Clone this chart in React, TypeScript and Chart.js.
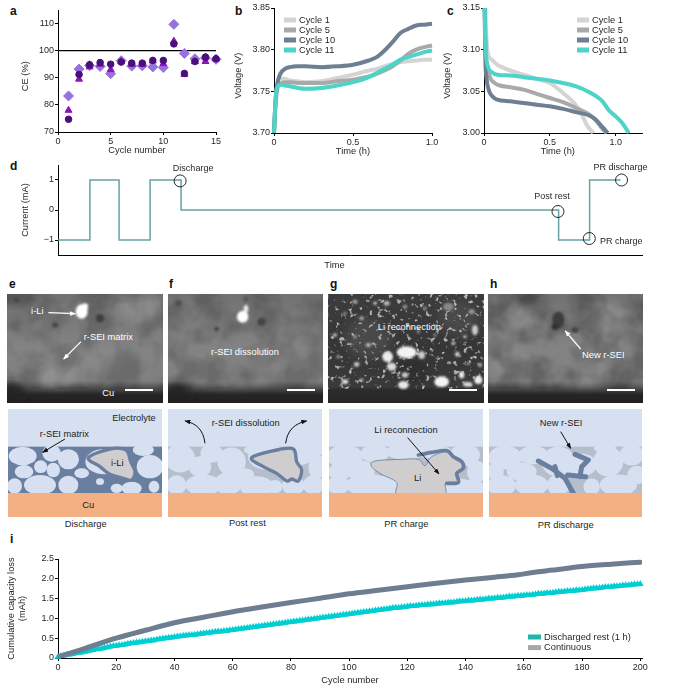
import React, { useEffect, useRef } from 'react';
import { Chart, registerables } from 'chart.js';

Chart.register(...registerables);

const FONT = '"Liberation Sans", Arial, sans-serif';
const INK = '#231f20';

// a: coulombic efficiency
const ceCycles = [1, 2, 3, 4, 5, 6, 7, 8, 9, 10, 11, 12, 13, 14, 15];
const ceDiamond = [83.3, 93.2, 94.5, 94.2, 91.5, 96.3, 94.3, 94.4, 94, 93.8, 109.7, 99, 97, 97.3, 96.8];
const ceTriangle = [78, 89.5, 94, 95, 93, 96, 95, 95, 96.2, 95.2, 103.5, 91.2, 96, 96, 97];
const ceCircle = [74.7, 91.2, 94.8, 95.6, 95, 95.8, 95.4, 95.4, 96.4, 96.4, 102.5, 91.6, 96, 97.6, 97];
const ceRefX = [0, 15];
const ceRefY = [100, 100];

// b: charge curves
const cycleNames = ['Cycle 1', 'Cycle 5', 'Cycle 10', 'Cycle 11'];
const cycleColors = ['#d4d4d4', '#a9a9a9', '#6f7f92', '#4dd4c8'];
const chargeTime = [0, 0.01, 0.02, 0.04, 0.07, 0.1, 0.15, 0.2, 0.3, 0.4, 0.5, 0.6, 0.65, 0.7, 0.75, 0.8, 0.85, 0.9, 0.95, 1];
const chargeC1 = [3.7, 3.74, 3.757, 3.765, 3.765, 3.763, 3.762, 3.761, 3.762, 3.766, 3.77, 3.775, 3.777, 3.78, 3.783, 3.785, 3.786, 3.787, 3.788, 3.788];
const chargeC5 = [3.7, 3.735, 3.752, 3.759, 3.761, 3.761, 3.76, 3.76, 3.76, 3.762, 3.764, 3.768, 3.771, 3.775, 3.78, 3.787, 3.795, 3.8, 3.803, 3.805];
const chargeC10 = [3.7, 3.74, 3.758, 3.771, 3.777, 3.779, 3.78, 3.78, 3.779, 3.78, 3.782, 3.787, 3.791, 3.799, 3.809, 3.82, 3.825, 3.829, 3.83, 3.831];
const chargeC11 = [3.7, 3.74, 3.755, 3.758, 3.757, 3.756, 3.754, 3.753, 3.754, 3.757, 3.761, 3.767, 3.772, 3.777, 3.782, 3.788, 3.791, 3.794, 3.797, 3.799];

// c: discharge curves
const dischargeT1 = [0.01, 0.02, 0.03, 0.06, 0.1, 0.15, 0.2, 0.3, 0.4, 0.5, 0.6, 0.7, 0.75, 0.78, 0.83];
const dischargeV1 = [3.15, 3.11, 3.095, 3.088, 3.082, 3.078, 3.075, 3.07, 3.065, 3.06, 3.048, 3.033, 3.02, 3.01, 3.0];
const dischargeT5 = [0.005, 0.015, 0.03, 0.05, 0.08, 0.12, 0.2, 0.3, 0.4, 0.5, 0.6, 0.7, 0.8, 0.85, 0.9, 0.93];
const dischargeV5 = [3.15, 3.09, 3.075, 3.065, 3.06, 3.057, 3.055, 3.052, 3.047, 3.042, 3.037, 3.03, 3.022, 3.015, 3.005, 3.0];
const dischargeT10 = [0.005, 0.01, 0.02, 0.04, 0.07, 0.1, 0.2, 0.3, 0.4, 0.5, 0.6, 0.7, 0.8, 0.85, 0.9, 0.94];
const dischargeV10 = [3.15, 3.09, 3.065, 3.05, 3.043, 3.04, 3.038, 3.036, 3.034, 3.032, 3.029, 3.025, 3.021, 3.016, 3.007, 3.0];
const dischargeT11 = [0.005, 0.01, 0.03, 0.06, 0.1, 0.2, 0.3, 0.4, 0.5, 0.6, 0.7, 0.8, 0.9, 0.95, 1, 1.05, 1.1];
const dischargeV11 = [3.15, 3.11, 3.08, 3.073, 3.07, 3.069, 3.067, 3.065, 3.063, 3.06, 3.056, 3.049, 3.038, 3.027, 3.02, 3.012, 3.0];

// d: current protocol
const protocolTime = [0, 1.03, 1.03, 1.97, 1.97, 2.97, 2.97, 3.97, 3.97, 16.15, 16.15, 17.15, 17.15, 18.15];
const protocolCurrent = [-1, -1, 1, 1, -1, -1, 1, 1, 0, 0, -1, -1, 1, 1];
const currentTicks = [-1, 0, 1];
const stageNames = ['Discharge', 'Post rest', 'PR charge', 'PR discharge'];
const stageTime = [3.94, 16.13, 17.14, 18.18];
const stageCurrent = [0.97, -0.05, -0.95, 1];
const stageLabelOffsets = [[13, -12], [-6, -15], [32, 3], [-1, -12]];

// i: cumulative capacity loss
const continuousCycle = [0, 5, 10, 20, 30, 40, 50, 60, 70, 80, 90, 100, 110, 120, 130, 140, 150, 158, 163, 170, 180, 190, 200];
const continuousLoss = [0.03, 0.14, 0.26, 0.5, 0.7, 0.89, 1.03, 1.17, 1.29, 1.4, 1.51, 1.62, 1.71, 1.8, 1.89, 1.97, 2.04, 2.1, 2.16, 2.22, 2.31, 2.37, 2.42];
const restLoss = [
  0.03, 0.05, 0.06, 0.08, 0.09, 0.1, 0.12, 0.13, 0.14, 0.16,
  0.17, 0.19, 0.2, 0.22, 0.23, 0.24, 0.26, 0.27, 0.29, 0.3,
  0.31, 0.32, 0.33, 0.34, 0.36, 0.37, 0.38, 0.39, 0.4, 0.41,
  0.42, 0.43, 0.44, 0.45, 0.47, 0.48, 0.49, 0.5, 0.51, 0.52,
  0.53, 0.54, 0.55, 0.56, 0.57, 0.58, 0.58, 0.59, 0.6, 0.61,
  0.62, 0.63, 0.64, 0.65, 0.66, 0.67, 0.67, 0.68, 0.69, 0.7,
  0.71, 0.72, 0.73, 0.74, 0.75, 0.76, 0.77, 0.78, 0.79, 0.8,
  0.81, 0.82, 0.83, 0.84, 0.85, 0.86, 0.87, 0.88, 0.89, 0.9,
  0.91, 0.92, 0.93, 0.94, 0.95, 0.96, 0.97, 0.98, 0.99, 1.0,
  1.01, 1.02, 1.03, 1.04, 1.05, 1.06, 1.07, 1.08, 1.09, 1.1,
  1.11, 1.12, 1.13, 1.14, 1.15, 1.16, 1.17, 1.18, 1.19, 1.2,
  1.21, 1.22, 1.23, 1.24, 1.25, 1.26, 1.27, 1.27, 1.28, 1.29,
  1.3, 1.31, 1.31, 1.32, 1.33, 1.34, 1.34, 1.35, 1.36, 1.36,
  1.37, 1.38, 1.38, 1.39, 1.4, 1.4, 1.41, 1.42, 1.43, 1.43,
  1.44, 1.45, 1.45, 1.46, 1.47, 1.48, 1.48, 1.49, 1.5, 1.5,
  1.51, 1.52, 1.52, 1.53, 1.54, 1.55, 1.55, 1.56, 1.57, 1.57,
  1.58, 1.59, 1.59, 1.6, 1.61, 1.62, 1.62, 1.63, 1.64, 1.64,
  1.65, 1.66, 1.67, 1.67, 1.68, 1.69, 1.69, 1.7, 1.71, 1.71,
  1.72, 1.73, 1.74, 1.75, 1.76, 1.76, 1.77, 1.78, 1.79, 1.79,
  1.8, 1.81, 1.81, 1.82, 1.83, 1.84, 1.84, 1.85, 1.86, 1.86,
  1.87,
];

const zip = (xs: number[], ys: number[]) => xs.map((x, i) => ({ x, y: ys[i] }));

type Key = { text: string; color: string }[];

// legend drawn by hand, chart.js' own one takes layout space
const keyPlugin = (items: Key, x: number, y: number, dy: number, w: number, h: number) => ({
  id: 'keyBlock',
  afterDraw(chart: any) {
    const { ctx, chartArea } = chart;
    ctx.save();
    ctx.font = `9.3px ${FONT}`;
    ctx.textBaseline = 'middle';
    items.forEach((it, i) => {
      const yy = chartArea.top + y + i * dy;
      ctx.fillStyle = it.color;
      ctx.fillRect(chartArea.left + x, yy - h / 2, w, h);
      ctx.fillStyle = INK;
      ctx.fillText(it.text, chartArea.left + x + w + 3, yy);
    });
    ctx.restore();
  },
});

const stageLabels = {
  id: 'stageLabels',
  afterDatasetsDraw(chart: any) {
    const { ctx } = chart;
    const pts = chart.getDatasetMeta(0).data;
    ctx.save();
    ctx.font = `9px ${FONT}`;
    ctx.fillStyle = INK;
    ctx.textAlign = 'center';
    ctx.textBaseline = 'middle';
    stageNames.forEach((name, i) => {
      ctx.fillText(name, pts[i].x + stageLabelOffsets[i][0], pts[i].y + stageLabelOffsets[i][1]);
    });
    ctx.restore();
  },
};

const axis = (min: number, max: number, step: number, fmt: (v: number) => string, title: any) => ({
  type: 'linear',
  min,
  max,
  grid: { drawOnChartArea: false, drawTicks: true, tickLength: 3, tickColor: '#000', tickWidth: 1 },
  border: { display: true, color: '#000', width: 1 },
  title: { display: true, color: INK, font: { family: FONT, size: 9.3 }, padding: 0, ...title },
  ticks: {
    stepSize: step,
    includeBounds: false,
    autoSkip: false,
    maxRotation: 0,
    padding: 1,
    color: INK,
    font: { family: FONT, size: 9 },
    callback: (v: any) => fmt(Number(v)),
  },
});

const plain = (v: number) => (v < 0 ? '\u2212' + Math.abs(v) : String(v));
const oneDec = (v: number) => (v === 0 ? '0' : v.toFixed(1));
const twoDec = (v: number) => v.toFixed(2);

function Plot({ box, yw, xh, config }: any) {
  const ref = useRef<HTMLCanvasElement | null>(null);
  const top = 8;
  const right = 12;
  const width = yw + box.r - box.l + right;
  const height = top + box.b - box.t + xh;

  useEffect(() => {
    const canvas = ref.current;
    if (!canvas) return;
    const cfg = config();
    cfg.options = {
      animation: false,
      responsive: false,
      layout: { autoPadding: false, padding: { top, right, left: 0, bottom: 0 } },
      plugins: { legend: { display: false }, tooltip: { enabled: false } },
      ...cfg.options,
    };
    cfg.options.scales.x.afterFit = (s: any) => { s.height = xh; };
    cfg.options.scales.y.afterFit = (s: any) => { s.width = yw; };
    const chart = new Chart(canvas, cfg);
    return () => chart.destroy();
  }, []);

  return (
    <canvas
      ref={ref}
      width={width}
      height={height}
      style={{ position: 'absolute', left: box.l - yw, top: box.t - top, width, height }}
    />
  );
}

const configA = () => ({
  type: 'line',
  data: {
    datasets: [
      { data: zip(ceCycles, ceCircle), showLine: false, pointStyle: 'circle', pointRadius: 3.3, backgroundColor: '#4b0f7a', borderColor: '#4b0f7a', clip: false },
      { data: zip(ceCycles, ceTriangle), showLine: false, pointStyle: 'triangle', pointRadius: 4, backgroundColor: '#8e12bb', borderColor: '#8e12bb', clip: false },
      { data: zip(ceCycles, ceDiamond), showLine: false, pointStyle: 'rectRot', pointRadius: 5, backgroundColor: '#9672dc', borderColor: '#9672dc', clip: false },
      { data: zip(ceRefX, ceRefY), borderColor: '#000', borderWidth: 1.2, pointRadius: 0 },
    ],
  },
  options: {
    scales: {
      x: axis(0, 15, 5, plain, { text: 'Cycle number' }),
      // trailing spaces push the rotated title down, it sits on the ticks and not on the axis middle
      y: axis(70, 115, 10, plain, { text: 'CE (%)    ' }),
    },
  },
});

const curve = (name: number, xs: number[], ys: number[]) => ({
  data: zip(xs, ys),
  borderColor: cycleColors[name],
  borderWidth: 4,
  pointRadius: 0,
  cubicInterpolationMode: 'monotone',
  order: 4 - name,
  clip: false,
});

const configB = () => ({
  type: 'line',
  data: {
    datasets: [
      curve(0, chargeTime, chargeC1),
      curve(1, chargeTime, chargeC5),
      curve(2, chargeTime, chargeC10),
      curve(3, chargeTime, chargeC11),
    ],
  },
  options: {
    scales: {
      x: axis(0, 1, 0.5, oneDec, { text: 'Time (h)' }),
      y: axis(3.7, 3.85, 0.05, twoDec, { text: 'Voltage (V)    ' }),
    },
  },
  plugins: [keyPlugin(cycleNames.map((text, i) => ({ text, color: cycleColors[i] })), 10, 12, 10, 12, 5)],
});

const configC = () => ({
  type: 'line',
  data: {
    datasets: [
      curve(0, dischargeT1, dischargeV1),
      curve(1, dischargeT5, dischargeV5),
      curve(2, dischargeT10, dischargeV10),
      curve(3, dischargeT11, dischargeV11),
    ],
  },
  options: {
    scales: {
      x: axis(0, 1.2, 0.5, oneDec, { text: 'Time (h)    ' }),
      y: axis(3.0, 3.15, 0.05, twoDec, { text: 'Voltage (V)    ' }),
    },
  },
  plugins: [keyPlugin(cycleNames.map((text, i) => ({ text, color: cycleColors[i] })), 93, 12, 10, 12, 5)],
});

const configD = () => {
  const x: any = axis(0, 18.84, 100, plain, { text: 'Time' + ' '.repeat(12) });
  x.ticks.display = false;
  x.grid.drawTicks = false;
  const y: any = axis(-1.5, 1.5, 1, plain, { text: 'Current (mA)' });
  y.afterBuildTicks = (s: any) => { s.ticks = currentTicks.map((value) => ({ value })); };
  return {
    type: 'line',
    data: {
      datasets: [
        { data: zip(stageTime, stageCurrent), showLine: false, pointRadius: 6, pointBorderWidth: 0.9, pointBorderColor: '#111', pointBackgroundColor: 'rgba(0,0,0,0)', clip: false },
        { data: zip(protocolTime, protocolCurrent), borderColor: '#66a1a3', borderWidth: 1.5, pointRadius: 0 },
      ],
    },
    options: { scales: { x, y } },
    plugins: [stageLabels],
  };
};

const configI = () => ({
  type: 'line',
  data: {
    datasets: [
      { data: zip(continuousCycle, continuousLoss), borderColor: '#6f7d90', borderWidth: 5, pointRadius: 0, borderCapStyle: 'round', cubicInterpolationMode: 'monotone', order: 1 },
      { data: restLoss.map((y, x) => ({ x, y })), borderColor: '#00cfd2', borderWidth: 4, pointStyle: 'triangle', pointRadius: 4, pointBorderWidth: 0, pointBackgroundColor: '#00cfd2', order: 2, clip: false },
    ],
  },
  options: {
    scales: {
      x: axis(0, 200.6, 20, plain, { text: 'Cycle number' }),
      y: axis(0, 2.5, 0.5, oneDec, { text: ['Cumulative capacity loss', '(mAh)'], lineHeight: 1.45 }),
    },
  },
  plugins: [keyPlugin([{ text: 'Discharged rest (1 h)', color: '#1fb5a8' }, { text: 'Continuous', color: '#a8a8a8' }], 470, 78, 10.6, 13, 5)],
});

const ELECTROLYTE = '#d7e0f1';
const COPPER = '#f2b083';
const SEI_DARK = '#6a7fa0';
const SEI_LIGHT = '#b5bfcc';
const LI = '#cfcdce';

type Blob = [number, number, number, number, string];

// closed or open catmull-rom path through hand placed outline points
const smooth = (p: number[][], closed = true) => {
  const n = p.length;
  const at = (i: number) => (closed ? p[(i + n) % n] : p[Math.max(0, Math.min(n - 1, i))]);
  let d = `M${p[0][0]} ${p[0][1]}`;
  for (let i = 0; i < (closed ? n : n - 1); i++) {
    const [a, b, c, e] = [at(i - 1), at(i), at(i + 1), at(i + 2)];
    d += ` C${b[0] + (c[0] - a[0]) / 6} ${b[1] + (c[1] - a[1]) / 6} ${c[0] - (e[0] - b[0]) / 6} ${c[1] - (e[1] - b[1]) / 6} ${c[0]} ${c[1]}`;
  }
  return closed ? d + ' Z' : d;
};

const T = ({ x, y, c = INK, a = 'middle', s = 28, children }: any) => (
  <text x={x} y={y} fill={c} textAnchor={a} fontSize={s} fontFamily={FONT} dominantBaseline="central">{children}</text>
);

const blobs = (list: Blob[], blur: string) => (
  <g filter={`url(#${blur})`}>
    {list.map((b, i) => <ellipse key={i} cx={b[0]} cy={b[1]} rx={b[2]} ry={b[3]} fill={b[4]} />)}
  </g>
);

const bubbles = (list: number[][], grow = 1) => list.map((b, i) => (
  <ellipse key={i} cx={b[0]} cy={b[1]} rx={b[2] * grow} ry={b[3] * grow} fill={ELECTROLYTE} />
));

function Micro({ id, x, w, grad, soft, sharp, speck = 'cloud', speckOpacity = 0.16 }: any) {
  return (
    <g clipPath={`url(#${id})`}>
      <clipPath id={id}><rect x={x} y={57} width={w} height={327} /></clipPath>
      <rect x={x} y={57} width={w} height={327} fill={`url(#${grad})`} />
      {blobs(soft, 'blurWide')}
      <rect x={x} y={57} width={w} height={285} filter={`url(#${speck})`} opacity={speckOpacity} />
      {blobs(sharp, 'blurTight')}
    </g>
  );
}

function Scheme({ id, x, w, band, children }: any) {
  return (
    <g clipPath={`url(#${id})`}>
      <clipPath id={id}><rect x={x} y={402} width={w} height={324} /></clipPath>
      <rect x={x} y={402} width={w} height={324} fill={ELECTROLYTE} />
      <rect x={x} y={515} width={w} height={140} fill={band} />
      {children}
      <rect x={x} y={654} width={w} height={72} fill={COPPER} />
    </g>
  );
}

const Bar = ({ x }: any) => <rect x={x} y={342} width={84} height={6} fill="#fff" />;

const Arrow = ({ d, c = 'k' }: any) => (
  <path d={d} fill="none" stroke={c === 'k' ? '#111' : '#fff'} strokeWidth={c === 'k' ? 3 : 3.5} markerEnd={`url(#head${c})`} />
);

const spotsG: Blob[] = [
  [90, 80, 8, 6, '#aaa'], [150, 85, 6, 6, '#999'], [185, 85, 9, 7, '#bbb'], [240, 95, 7, 6, '#999'], [300, 100, 6, 6, '#888'],
  [370, 95, 16, 12, '#888'], [440, 110, 9, 7, '#999'], [60, 115, 6, 5, '#888'], [110, 130, 7, 6, '#aaa'], [30, 180, 6, 6, '#bbb'],
  [90, 185, 5, 5, '#aaa'], [130, 210, 8, 6, '#bbb'], [40, 245, 6, 5, '#999'], [95, 268, 8, 7, '#ccc'], [60, 320, 10, 7, '#ddd'],
  [110, 315, 6, 5, '#aaa'], [385, 205, 6, 6, '#bbb'], [397, 238, 7, 7, '#ddd'], [450, 165, 9, 16, '#ccc'], [420, 185, 6, 5, '#aaa'],
  [465, 270, 7, 6, '#aaa'], [410, 300, 8, 10, '#eee'], [430, 265, 5, 5, '#aaa'], [330, 180, 5, 5, '#888'], [280, 170, 5, 5, '#999'],
];

const liE = [[265, 548], [330, 522], [378, 525], [392, 560], [405, 590], [395, 615], [370, 610], [330, 598], [300, 575]];
const liF = [[755, 548], [830, 525], [880, 522], [890, 560], [905, 585], [895, 618], [875, 612], [860, 618], [830, 595], [790, 575]];
const liG = [[222, 662], [215, 622], [170, 598], [140, 575], [150, 558], [230, 553], [280, 553], [300, 572], [320, 545], [365, 530], [385, 548], [412, 565], [412, 582], [395, 595], [398, 620], [362, 625], [352, 662]];
const sheathG = [[280, 540], [320, 532], [365, 527], [385, 545], [410, 560], [415, 580], [395, 595], [400, 622], [365, 625]];

function Panels() {
  return (
    <svg width={674} height={694} style={{ position: 'absolute', left: 0, top: 0 }}>
      <defs>
        <filter id="blurWide" x="-50%" y="-50%" width="200%" height="200%"><feGaussianBlur stdDeviation="14" /></filter>
        <filter id="blurTight" x="-50%" y="-50%" width="200%" height="200%"><feGaussianBlur stdDeviation="3" /></filter>
        <filter id="cloud" x="0" y="0" width="100%" height="100%">
          <feTurbulence type="fractalNoise" baseFrequency="0.012" numOctaves="3" seed="4" />
          <feColorMatrix values="0 0 0 0 0  0 0 0 0 0  0 0 0 0 0  3 0 0 0 -1.1" />
        </filter>
        <filter id="speck" x="0" y="0" width="100%" height="100%">
          <feTurbulence type="fractalNoise" baseFrequency="0.07" numOctaves="2" seed="7" />
          <feColorMatrix values="0 0 0 0 1  0 0 0 0 1  0 0 0 0 1  7 0 0 0 -4.2" />
          <feGaussianBlur stdDeviation="2" />
        </filter>
        <linearGradient id="gradGrey" x1="0" y1="0" x2="0" y2="1">
          <stop offset="0" stopColor="#727272" /><stop offset="0.5" stopColor="#838383" /><stop offset="0.8" stopColor="#808080" />
          <stop offset="0.87" stopColor="#4a4a4a" /><stop offset="0.92" stopColor="#262626" /><stop offset="1" stopColor="#202020" />
        </linearGradient>
        <linearGradient id="gradDark" x1="0" y1="0" x2="0" y2="1">
          <stop offset="0" stopColor="#3c3c3c" /><stop offset="0.5" stopColor="#363636" /><stop offset="0.85" stopColor="#3a3a3a" />
          <stop offset="0.88" stopColor="#2c2c2c" /><stop offset="1" stopColor="#262626" />
        </linearGradient>
        <marker id="headk" markerUnits="userSpaceOnUse" markerWidth="18" markerHeight="14" refX="16" refY="7" orient="auto">
          <path d="M0 0 L18 7 L0 14 Z" fill="#111" />
        </marker>
        <marker id="headw" markerUnits="userSpaceOnUse" markerWidth="18" markerHeight="14" refX="16" refY="7" orient="auto">
          <path d="M0 0 L18 7 L0 14 Z" fill="#fff" />
        </marker>
      </defs>

      <g fontFamily={FONT} fontWeight="bold" fontSize={12} fill="#111">
        <text x={10} y={15}>a</text>
        <text x={235} y={15}>b</text>
        <text x={447} y={15}>c</text>
        <text x={10} y={170}>d</text>
        <text x={9} y={288}>e</text>
        <text x={169} y={288}>f</text>
        <text x={330} y={288}>g</text>
        <text x={490} y={288}>h</text>
        <text x={10} y={543}>i</text>
      </g>

      <g transform="translate(0,275) scale(0.33333)">
        <Micro id="mE" x={21} w={468} grad="gradGrey"
          soft={[[50, 70, 60, 25, '#5a5a5a'], [170, 300, 60, 30, '#909090'], [300, 250, 70, 40, '#888'], [420, 100, 70, 40, '#8a8a8a'], [35, 350, 40, 28, '#222']] as Blob[]}
          sharp={[[245, 110, 18, 22, '#fff'], [255, 95, 9, 10, '#fff'], [300, 130, 12, 12, '#3c3c3c'], [165, 150, 9, 8, '#4a4a4a'], [50, 75, 10, 8, '#4a4a4a']] as Blob[]} />
        <T x={112} y={108} c="#fff">i-Li</T>
        <Arrow d="M145 113 L226 116" c="w" />
        <T x={325} y={185} c="#fff">r-SEI matrix</T>
        <Arrow d="M243 200 L191 252" c="w" />
        <T x={325} y={355} c="#fff">Cu</T>
        <Bar x={375} />

        <Micro id="mF" x={504} w={465} grad="gradGrey"
          soft={[[700, 300, 120, 30, '#7f7f7f'], [530, 355, 40, 28, '#222']] as Blob[]}
          sharp={[[728, 125, 17, 18, '#fff'], [738, 102, 7, 12, '#eee'], [785, 140, 12, 12, '#444'], [650, 162, 8, 7, '#4a4a4a'], [535, 85, 10, 9, '#4e4e4e'], [738, 72, 6, 8, '#555']] as Blob[]} />
        <T x={735} y={230} c="#fff">r-SEI dissolution</T>
        <Bar x={861} />

        <Scheme id="sE" x={24} w={462} band={SEI_DARK}>
          {bubbles([[68, 543, 42, 28], [155, 535, 28, 25], [205, 553, 32, 30], [72, 590, 28, 20], [122, 575, 20, 19], [160, 585, 20, 22], [245, 595, 22, 15], [120, 630, 48, 30], [44, 633, 22, 23], [205, 630, 30, 28], [350, 640, 18, 14], [395, 640, 30, 20], [450, 575, 40, 35], [430, 525, 32, 18], [312, 560, 56, 38], [300, 620, 12, 10], [462, 635, 16, 18]])}
          <path d={smooth(liE)} fill={LI} stroke={SEI_DARK} strokeWidth={10} strokeLinejoin="round" />
        </Scheme>
        <T x={402} y={428}>Electrolyte</T>
        <T x={193} y={476}>r-SEI matrix</T>
        <Arrow d="M195 492 L128 532" />
        <T x={352} y={563}>i-Li</T>
        <T x={265} y={689}>Cu</T>
        <T x={257} y={746}>Discharge</T>

        <Scheme id="sF" x={504} w={462} band={SEI_LIGHT}>
          {bubbles([[540, 550, 40, 38], [635, 535, 30, 25], [695, 560, 38, 38], [600, 575, 30, 28], [530, 630, 26, 26], [610, 630, 48, 28], [685, 625, 38, 30], [735, 600, 25, 18], [770, 635, 45, 28], [825, 635, 20, 18], [880, 632, 30, 25], [940, 630, 28, 26], [890, 540, 45, 28], [950, 575, 22, 35], [800, 545, 50, 35], [945, 520, 30, 20], [760, 525, 25, 12]], 1.12)}
          <path d={smooth(liF)} fill={LI} stroke={SEI_DARK} strokeWidth={10} strokeLinejoin="round" />
        </Scheme>
        <T x={737} y={443}>r-SEI dissolution</T>
        <Arrow d="M615 505 C610 465 590 445 555 438" />
        <Arrow d="M857 505 C862 465 885 445 920 438" />
        <T x={742} y={743}>Post rest</T>
      </g>

      <g transform="translate(325,275) scale(0.33333)">
        <Micro id="mG" x={9} w={468} grad="gradDark" speck="speck" speckOpacity={0.6}
          soft={[[130, 190, 70, 60, '#4a4a4a'], [400, 130, 60, 50, '#484848'], [260, 290, 50, 40, '#2f2f2f']] as Blob[]}
          sharp={[...spotsG, [245, 232, 30, 18, '#f2f2f2'], [188, 245, 16, 16, '#ececec'], [200, 275, 14, 12, '#ddd'], [290, 240, 10, 12, '#ccc'], [235, 330, 16, 12, '#e8e8e8'], [240, 300, 10, 8, '#ccc'], [350, 320, 22, 16, '#f4f4f4'], [460, 315, 12, 12, '#eee'], [428, 328, 14, 7, '#ddd']] as Blob[]} />
        <T x={253} y={155} c="#fff">Li reconnection</T>
        <Bar x={372} />

        <Micro id="mH" x={489} w={465} grad="gradGrey" speckOpacity={0.22}
          soft={[[600, 120, 50, 40, '#8b8b8b'], [850, 130, 60, 45, '#8b8b8b'], [560, 270, 55, 45, '#8a8a8a'], [780, 290, 80, 40, '#858585'], [590, 70, 60, 22, '#5a5a5a']] as Blob[]}
          sharp={[[700, 135, 18, 25, '#3e3e3e'], [750, 165, 10, 9, '#444'], [690, 155, 10, 10, '#333']] as Blob[]} />
        <Arrow d="M767 222 L721 168" c="w" />
        <T x={835} y={241} c="#fff">New r-SEI</T>
        <Bar x={846} />

        <Scheme id="sG" x={12} w={462} band={SEI_LIGHT}>
          {bubbles([[60, 545, 48, 32], [150, 535, 38, 25], [45, 590, 32, 22], [110, 590, 35, 30], [40, 630, 30, 26], [130, 630, 60, 30], [240, 530, 50, 22], [200, 630, 40, 30], [325, 530, 50, 18], [420, 540, 40, 30], [455, 590, 26, 30], [400, 635, 40, 22], [445, 640, 30, 25], [350, 640, 30, 20], [300, 640, 40, 20]], 1.12)}
          <path d={smooth(liG)} fill={LI} stroke={SEI_DARK} strokeWidth={2.5} strokeLinejoin="round" />
          <path d={smooth(sheathG, false)} fill="none" stroke={SEI_DARK} strokeWidth={11} strokeLinecap="round" />
        </Scheme>
        <T x={243} y={464}>Li reconnection</T>
        <Arrow d="M248 488 L342 597" />
        <T x={278} y={610}>Li</T>
        <T x={244} y={746}>PR charge</T>

        <Scheme id="sH" x={492} w={459} band={SEI_LIGHT}>
          {bubbles([[540, 548, 45, 32], [625, 540, 40, 25], [700, 560, 45, 40], [510, 590, 24, 22], [590, 590, 40, 25], [530, 632, 38, 28], [620, 630, 45, 28], [700, 630, 30, 28], [800, 635, 22, 22], [770, 570, 40, 30], [850, 560, 40, 40], [880, 630, 50, 28], [920, 540, 32, 28], [935, 600, 25, 25], [840, 520, 30, 12]], 1.12)}
          <path d="M640 558 L680 580 L720 610 L745 655 M690 575 L697 602 M728 600 L782 605 M750 538 L790 555 L770 575 L765 605" fill="none" stroke={SEI_DARK} strokeWidth={15} strokeLinejoin="round" strokeLinecap="round" />
        </Scheme>
        <T x={708} y={445}>New r-SEI</T>
        <Arrow d="M707 470 L737 520" />
        <T x={722} y={749}>PR discharge</T>
      </g>
    </svg>
  );
}

export default function App() {
  return (
    <div style={{ position: 'absolute', left: 0, top: 0, width: 674, height: 694, background: '#fff', overflow: 'hidden' }}>
      <Panels />
      <Plot box={{ l: 58, r: 216, t: 10, b: 132 }} yw={38} xh={24} config={configA} />
      <Plot box={{ l: 274, r: 432, t: 8, b: 133 }} yw={41} xh={24} config={configB} />
      <Plot box={{ l: 484, r: 642, t: 8, b: 133 }} yw={42} xh={24} config={configC} />
      <Plot box={{ l: 58, r: 642, t: 165, b: 255 }} yw={38} xh={16} config={configD} />
      <Plot box={{ l: 58, r: 642, t: 559, b: 658 }} yw={52} xh={28} config={configI} />
    </div>
  );
}
